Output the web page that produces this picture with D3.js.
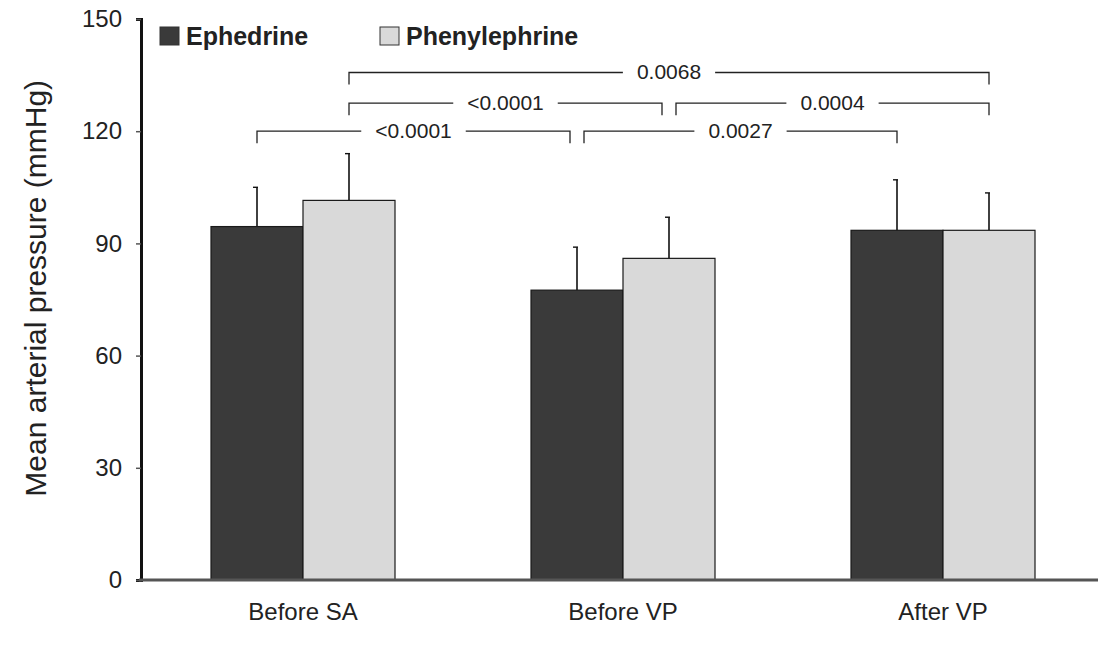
<!DOCTYPE html>
<html lang="en">
<head>
<meta charset="utf-8">
<title>Mean arterial pressure</title>
<script type="text/javascript" src="https://cdn.jsdelivr.net/npm/d3@7"></script>
<style>
body { margin: 0; background: #fff; }
text { font-family: "Liberation Sans", Arial, sans-serif; fill: #222; }
</style>
</head>
<body>
<script type="text/javascript">
var w = 1098;
var h = 645;

// data
var categories = ["Before SA", "Before VP", "After VP"];
var series = ["Ephedrine", "Phenylephrine"];
var ephedrine = [94.5, 77.5, 93.5];
var ephedrineSD = [10.5, 11.5, 13.5];
var phenylephrine = [101.5, 86, 93.5];
var phenylephrineSD = [12.5, 11, 10];
var yTicks = [0, 30, 60, 90, 120, 150];

// comparisons: [category, series] -> [category, series], bracket height, p value
// nudge: -1 / +1 moves an end away from a shared bar
var compLevels = [120, 120, 127.5, 127.5, 135.7];
var compLabels = ["<0.0001", "0.0027", "<0.0001", "0.0004", "0.0068"];
var compFrom = [[0, 0], [1, 0], [0, 1], [1, 1], [0, 1]];
var compTo = [[1, 0], [2, 0], [1, 1], [2, 1], [2, 1]];
var compNudge = [[0, -1], [1, 0], [0, -1], [1, 0], [0, 0]];

var colors = { "Ephedrine": "#3a3a3a", "Phenylephrine": "#d9d9d9" };

var svg = d3.select("body").append("svg")
  .attr("width", w)
  .attr("height", h);

var x0 = d3.scaleBand().domain(categories).range([143, 1103]);
var x1 = d3.scaleBand().domain(series).range([68, 252]);
var yScale = d3.scaleLinear().domain([0, 150]).range([580, 19]);

var values = { "Ephedrine": ephedrine, "Phenylephrine": phenylephrine };
var sds = { "Ephedrine": ephedrineSD, "Phenylephrine": phenylephrineSD };

var rows = [];
categories.forEach(function (c, i) {
  series.forEach(function (s) {
    rows.push({ cat: c, s: s, v: values[s][i], sd: sds[s][i] });
  });
});

function cx(ci, si) {
  return x0(categories[ci]) + x1(series[si]) + x1.bandwidth() / 2;
}

// error bars (behind bars)
svg.selectAll("line.err")
  .data(rows)
  .enter()
  .append("line")
  .attr("class", "err")
  .attr("x1", function (d) { return x0(d.cat) + x1(d.s) + x1.bandwidth() / 2; })
  .attr("x2", function (d) { return x0(d.cat) + x1(d.s) + x1.bandwidth() / 2; })
  .attr("y1", function (d) { return yScale(d.v); })
  .attr("y2", function (d) { return yScale(d.v + d.sd); })
  .attr("stroke", "#111")
  .attr("stroke-width", 1.6);

svg.selectAll("line.cap")
  .data(rows)
  .enter()
  .append("line")
  .attr("class", "cap")
  .attr("x1", function (d) { return x0(d.cat) + x1(d.s) + x1.bandwidth() / 2 - 4; })
  .attr("x2", function (d) { return x0(d.cat) + x1(d.s) + x1.bandwidth() / 2 + 1; })
  .attr("y1", function (d) { return yScale(d.v + d.sd); })
  .attr("y2", function (d) { return yScale(d.v + d.sd); })
  .attr("stroke", "#111")
  .attr("stroke-width", 1.4);

// bars
svg.selectAll("rect.bar")
  .data(rows)
  .enter()
  .append("rect")
  .attr("class", "bar")
  .attr("x", function (d) { return x0(d.cat) + x1(d.s); })
  .attr("y", function (d) { return yScale(d.v); })
  .attr("width", x1.bandwidth())
  .attr("height", function (d) { return yScale(0) - yScale(d.v); })
  .attr("fill", function (d) { return colors[d.s]; })
  .attr("stroke", "#1a1a1a")
  .attr("stroke-width", 1.2);

// significance brackets
var drop = 12;
var nudgePx = 7;
compLabels.forEach(function (lab, i) {
  var xa = cx(compFrom[i][0], compFrom[i][1]) + compNudge[i][0] * nudgePx;
  var xb = cx(compTo[i][0], compTo[i][1]) + compNudge[i][1] * nudgePx;
  var yy = yScale(compLevels[i]);
  var mid = (xa + xb) / 2;
  var g = svg.append("g");
  var t = g.append("text")
    .attr("x", mid)
    .attr("y", yy + 7)
    .attr("text-anchor", "middle")
    .attr("font-size", "21px")
    .text(lab);
  var half = t.node().getComputedTextLength() / 2 + 14;
  g.append("path")
    .attr("d", "M" + xa + "," + (yy + drop) + "V" + yy + "H" + (mid - half) +
      "M" + (mid + half) + "," + yy + "H" + xb + "V" + (yy + drop))
    .attr("fill", "none")
    .attr("stroke", "#222")
    .attr("stroke-width", 1.3);
});

// axes
var yAxis = d3.axisLeft(yScale).tickValues(yTicks).tickSize(5).tickPadding(14);
var gy = svg.append("g")
  .attr("transform", "translate(141,0)")
  .call(yAxis);
gy.select(".domain").attr("stroke", "#111").attr("stroke-width", 3);
gy.selectAll(".tick line").attr("stroke", "#555").attr("stroke-width", 1.5);
gy.selectAll(".tick text").attr("font-size", "24px").attr("fill", "#222");

svg.append("line")
  .attr("x1", 139).attr("x2", w)
  .attr("y1", yScale(0)).attr("y2", yScale(0))
  .attr("stroke", "#555")
  .attr("stroke-width", 3);

var xAxis = d3.axisBottom(x0).tickSize(0).tickPadding(23);
var gx = svg.append("g")
  .attr("transform", "translate(0," + yScale(0) + ")")
  .call(xAxis);
gx.select(".domain").remove();
gx.selectAll(".tick text").attr("font-size", "24px").attr("fill", "#222");

svg.append("text")
  .attr("transform", "translate(46," + yScale(78) + ") rotate(-90)")
  .attr("text-anchor", "middle")
  .attr("font-size", "30px")
  .text("Mean arterial pressure (mmHg)");

// legend
var legX = [160, 380];
series.forEach(function (s, i) {
  svg.append("rect")
    .attr("x", legX[i]).attr("y", 27)
    .attr("width", 19).attr("height", 18)
    .attr("fill", colors[s])
    .attr("stroke", "#333")
    .attr("stroke-width", 1);
  svg.append("text")
    .attr("x", legX[i] + 26).attr("y", 45)
    .attr("font-size", "25px")
    .attr("font-weight", "bold")
    .text(s);
});
</script>
</body>
</html>
